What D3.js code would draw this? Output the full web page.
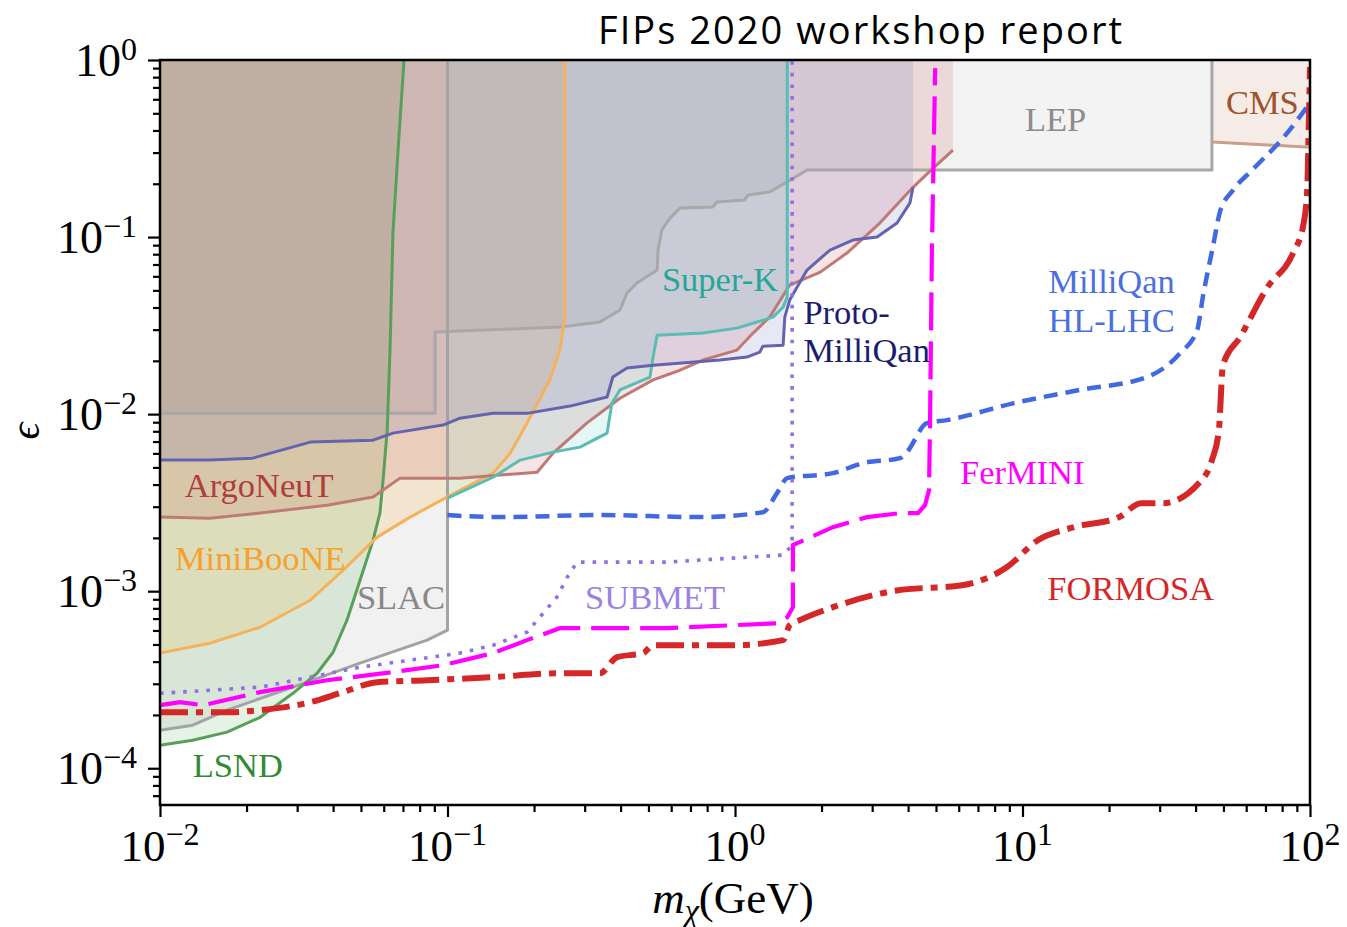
<!DOCTYPE html>
<html>
<head>
<meta charset="utf-8">
<script src="https://cdn.jsdelivr.net/npm/d3@7"></script>
<style>
  body { margin: 0; background: #fff; }
  svg { display: block; }
  .serif { font-family: "Liberation Serif", "DejaVu Serif", serif; }
</style>
</head>
<body>
<svg id="chart" width="1347" height="927"></svg>
<script>
var svg;
var x;
var y;

// every curve is [mass (GeV), epsilon]
var lsnd = [[0.01,1.35e-4],[0.013,1.44e-4],[0.0171,1.6e-4],[0.0223,1.94e-4],[0.029,2.65e-4],[0.0352,3.44e-4],[0.04,4.52e-4],[0.0447,6.86e-4],[0.0496,1.15e-3],[0.0551,1.94e-3],[0.0582,2.76e-3],[0.0597,4.24e-3],[0.0617,8.12e-3],[0.0631,0.023],[0.0646,0.105],[0.0673,0.31],[0.0706,1]];
var slac = [[0.01,1.64e-4],[0.013,1.75e-4],[0.0171,2.13e-4],[0.029,2.87e-4],[0.0496,3.92e-4],[0.0849,5.29e-4],[0.1,6.02e-4],[0.1,1]];
var miniboone = [[0.01,4.47e-4],[0.0149,5.08e-4],[0.0223,6.26e-4],[0.0333,8.89e-4],[0.0433,1.31e-3],[0.0569,2.02e-3],[0.0741,2.62e-3],[0.0995,3.4e-3],[0.144,4.64e-3],[0.165,6.0e-3],[0.189,8.89e-3],[0.227,0.0156],[0.246,0.023],[0.256,0.0353],[0.256,1]];
var argoneut = [[0.01,2.62e-3],[0.0149,2.58e-3],[0.0223,2.76e-3],[0.0381,3.06e-3],[0.0551,3.4e-3],[0.0684,4.35e-3],[0.1105,4.35e-3],[0.205,4.7e-3],[0.233,6.02e-3],[0.305,8.89e-3],[0.398,0.0123],[0.519,0.0156],[0.644,0.0177],[0.774,0.0202],[1.016,0.023],[1.156,0.0287],[1.32,0.0353],[1.55,0.0536],[1.98,0.0634],[2.45,0.0812],[3.19,0.12],[4.16,0.191],[4.89,0.245],[5.73,0.31]];
var protoMilliqan = [[0.01,5.5e-3],[0.0149,5.5e-3],[0.021,5.64e-3],[0.0333,6.95e-3],[0.0551,7.13e-3],[0.0646,7.81e-3],[0.0965,8.67e-3],[0.1105,9.49e-3],[0.144,0.0101],[0.189,0.0101],[0.267,0.0111],[0.359,0.0125],[0.376,0.0162],[0.421,0.0182],[0.519,0.0189],[0.887,0.0202],[1.1,0.021],[1.22,0.0224],[1.25,0.0242],[1.47,0.0245],[1.49,0.0353],[1.55,0.0441],[1.78,0.0651],[2.14,0.0845],[2.57,0.0962],[3.12,0.1],[3.66,0.12],[4.06,0.156],[4.16,0.191]];
var superK = [[0.1,3.35e-3],[0.144,4.4e-3],[0.179,5.5e-3],[0.233,6.1e-3],[0.289,6.51e-3],[0.359,7.81e-3],[0.373,0.0115],[0.398,0.0137],[0.506,0.0162],[0.519,0.021],[0.536,0.0279],[0.774,0.0287],[1.016,0.0306],[1.356,0.0353],[1.47,0.0402],[1.52,0.0458],[1.52,1]];
var colliders = [[0.01,0.0101],[0.0906,0.0101],[0.0906,0.0291],[0.246,0.031],[0.339,0.0331],[0.398,0.0387],[0.421,0.0483],[0.456,0.055],[0.536,0.0651],[0.54,0.0845],[0.557,0.11],[0.594,0.128],[0.644,0.146],[0.838,0.148],[0.865,0.158],[1.08,0.162],[1.11,0.173],[1.32,0.18],[1.52,0.205],[1.78,0.239],[45.6,0.239],[45.6,1]];
var cms = [[45.6,0.344],[100,0.322]];

var milliqanHL = [[0.1,2.69e-3],[0.152,2.62e-3],[0.339,2.69e-3],[0.756,2.62e-3],[1.25,2.79e-3],[1.4,3.58e-3],[1.52,4.35e-3],[2.19,4.64e-3],[2.79,5.29e-3],[3.75,5.64e-3],[3.96,6.1e-3],[4.65,8.89e-3],[5.46,9.25e-3],[9.27,0.0115],[15.85,0.0137],[27.1,0.0162],[32.6,0.0194],[35.3,0.0221],[40.5,0.0298],[42.5,0.047],[46,0.089],[48.7,0.14],[54,0.184],[63.4,0.242],[80.5,0.362],[100,0.572]];
var submet = [[0.01,2.65e-4],[0.0223,2.87e-4],[0.0496,3.72e-4],[0.1105,4.47e-4],[0.144,4.95e-4],[0.189,5.87e-4],[0.24,9.25e-4],[0.261,1.2e-3],[0.282,1.46e-3],[0.58,1.46e-3],[1.47,1.6e-3],[1.58,1.82e-3],[1.58,1]];
var fermini = [[0.01,2.27e-4],[0.01174,2.36e-4],[0.0141,2.27e-4],[0.0223,2.69e-4],[0.0381,3.14e-4],[0.0646,3.49e-4],[0.0965,3.82e-4],[0.144,4.47e-4],[0.189,5.29e-4],[0.246,6.18e-4],[0.58,6.18e-4],[1.4,6.59e-4],[1.52,7.13e-4],[1.59,8.12e-4],[1.59,1.82e-3],[2.19,2.3e-3],[2.88,2.62e-3],[3.75,2.76e-3],[4.33,2.76e-3],[4.58,3.06e-3],[4.73,3.72e-3],[4.77,9.25e-3],[4.84,0.0845],[4.97,0.9]];
var formosa = [[0.01,2.07e-4],[0.0171,2.07e-4],[0.0223,2.13e-4],[0.0333,2.36e-4],[0.0433,2.69e-4],[0.0569,3.06e-4],[0.0849,3.14e-4],[0.144,3.27e-4],[0.246,3.44e-4],[0.339,3.44e-4],[0.389,4.24e-4],[0.479,4.47e-4],[0.519,4.95e-4],[0.984,4.95e-4],[1.47,5.29e-4],[1.55,6.43e-4],[1.68,6.86e-4],[2.19,8.12e-4],[3.66,1.01e-3],[6.16,1.08e-3],[8.84,1.37e-3],[11.3,1.94e-3],[15.1,2.3e-3],[21.7,2.62e-3],[25.8,3.14e-3],[30.8,3.14e-3],[41.1,4.08e-3],[45.6,5.5e-3],[48.2,8.12e-3],[49.8,0.0189],[57.1,0.0272],[70.8,0.0515],[87.3,0.0812],[94.8,0.117],[97.8,0.184],[98.5,0.291],[100,0.913]];

var xTicks = [1e-2, 1e-1, 1e0, 1e1, 1e2];
var xTickExp = ["−2", "−1", "0", "1", "2"];
var yTicks = [1e-4, 1e-3, 1e-2, 1e-1, 1e0];
var yTickExp = ["−4", "−3", "−2", "−1", "0"];

var labelText = ["ArgoNeuT", "MiniBooNE", "SLAC", "LSND", "Super-K", "Proto-", "MilliQan", "MilliQan", "HL-LHC", "FerMINI", "SUBMET", "FORMOSA", "LEP", "CMS"];
var labelMass = [0.0122, 0.01127, 0.0484, 0.013, 0.557, 1.73, 1.73, 12.3, 12.3, 6.06, 0.301, 12.2, 10.2, 51.0];
var labelEps = [3.4e-3, 1.31e-3, 7.91e-4, 8.89e-5, 0.0495, 0.0322, 0.0198, 0.0482, 0.029, 4.02e-3, 7.91e-4, 8.89e-4, 0.397, 0.495];
var labelColor = ["#b03c3c", "#f7a02f", "#888888", "#2f8a34", "#26a69a", "#1c1c6e", "#1c1c6e", "#4a6fe0", "#4a6fe0", "#ff00ff", "#9b82e0", "#d62728", "#8c8c8c", "#a0522d"];

document.addEventListener('DOMContentLoaded', function () {
  svg = d3.select('#chart');
  drawChart();
});

function drawChart() {
  let left = 160, right = 1310, top = 60, bottom = 805;
  x = d3.scaleLog().domain([0.01, 100]).range([left, right]);
  y = d3.scaleLog().domain([6.2e-5, 1]).range([bottom, top]);

  svg.append("rect").attr("width", 1347).attr("height", 927).attr("fill", "#fff");

  svg.append("clipPath").attr("id", "plotclip")
    .append("rect")
    .attr("x", left).attr("y", top)
    .attr("width", right - left).attr("height", bottom - top);

  let plot = svg.append("g").attr("clip-path", "url(#plotclip)");

  let line = d3.line().x(d => x(d[0])).y(d => y(d[1]));
  let smooth = d3.line().x(d => x(d[0])).y(d => y(d[1])).curve(d3.curveMonotoneX);

  // shaded exclusions: curve plus the corners needed to close it to the top of the plot
  let regions = [
    { pts: colliders, close: [[0.01, 1]], fill: "#999999", op: 0.12, stroke: "#a8a8a8" },
    { pts: cms, close: [[100, 1], [45.6, 1]], fill: "#a0522d", op: 0.11, stroke: "#c9a08b" },
    { pts: slac, close: [[0.01, 1]], fill: "#888888", op: 0.12, stroke: "#a3a3a3" },
    { pts: lsnd, close: [[0.01, 1]], fill: "#2ca02c", op: 0.13, stroke: "#58a05a" },
    { pts: miniboone, close: [[0.01, 1]], fill: "#ffa500", op: 0.13, stroke: "#f6b25a" },
    { pts: argoneut, close: [[5.73, 1], [0.01, 1]], fill: "#b22222", op: 0.12, stroke: "#c07a76" },
    { pts: superK, close: [[0.1, 1]], fill: "#20b2aa", op: 0.12, stroke: "#5abcb2" },
    { pts: protoMilliqan, close: [[4.16, 1], [0.01, 1]], fill: "#4b4bb0", op: 0.13, stroke: "#6464ae" }
  ];

  regions.forEach(function (r) {
    plot.append("path")
      .attr("d", line(r.pts.concat(r.close)) + "Z")
      .attr("fill", r.fill)
      .attr("fill-opacity", r.op)
      .attr("stroke", "none");
  });
  regions.forEach(function (r) {
    plot.append("path")
      .attr("d", line(r.pts))
      .attr("fill", "none")
      .attr("stroke", r.stroke)
      .attr("stroke-width", 3)
      .attr("stroke-linejoin", "round");
  });

  // projections
  plot.append("path").attr("d", smooth(milliqanHL))
    .attr("fill", "none").attr("stroke", "#4169e1").attr("stroke-width", 4.5)
    .attr("stroke-dasharray", "14,8");
  plot.append("path").attr("d", line(submet))
    .attr("fill", "none").attr("stroke", "#9370db").attr("stroke-width", 3.6)
    .attr("stroke-dasharray", "3.6,8");
  plot.append("path").attr("d", line(fermini))
    .attr("fill", "none").attr("stroke", "#ff00ff").attr("stroke-width", 4.2)
    .attr("stroke-dasharray", "38,11");
  plot.append("path").attr("d", smooth(formosa))
    .attr("fill", "none").attr("stroke", "#d62728").attr("stroke-width", 6)
    .attr("stroke-dasharray", "28,8,7,8");

  // experiment labels
  svg.append("g").selectAll("text")
    .data(labelText)
    .enter()
    .append("text")
    .attr("class", "serif")
    .attr("x", (d, i) => x(labelMass[i]))
    .attr("y", (d, i) => y(labelEps[i]))
    .attr("font-size", 34.5)
    .attr("fill", (d, i) => labelColor[i])
    .text(d => d);

  // axes
  let minorX = [], minorY = [];
  for (let k = -2; k < 2; k++) for (let j = 2; j <= 9; j++) minorX.push(j * Math.pow(10, k));
  for (let k = -5; k < 0; k++) for (let j = 2; j <= 9; j++) {
    let v = j * Math.pow(10, k);
    if (v >= 6.2e-5) minorY.push(v);
  }

  let gx = svg.append("g").attr("transform", "translate(0," + bottom + ")");
  gx.call(d3.axisBottom(x).tickValues(xTicks).tickSize(12).tickSizeOuter(0).tickFormat(""));
  gx.append("g").call(d3.axisBottom(x).tickValues(minorX).tickSize(7).tickSizeOuter(0).tickFormat(""));
  let gy = svg.append("g").attr("transform", "translate(" + left + ",0)");
  gy.call(d3.axisLeft(y).tickValues(yTicks).tickSize(12).tickSizeOuter(0).tickFormat(""));
  gy.append("g").call(d3.axisLeft(y).tickValues(minorY).tickSize(7).tickSizeOuter(0).tickFormat(""));
  svg.selectAll(".tick line").attr("stroke", "#000").attr("stroke-width", 2.2);
  svg.selectAll(".domain").remove();

  svg.append("rect")
    .attr("x", left).attr("y", top)
    .attr("width", right - left).attr("height", bottom - top)
    .attr("fill", "none").attr("stroke", "#000").attr("stroke-width", 2.5);

  let xl = svg.append("g").selectAll("text")
    .data(xTicks).enter().append("text")
    .attr("class", "serif")
    .attr("x", d => x(d))
    .attr("y", bottom + 56)
    .attr("text-anchor", "middle")
    .attr("font-size", 45);
  xl.append("tspan").text("10");
  xl.append("tspan").attr("dy", -16).attr("font-size", 32).text((d, i) => xTickExp[i]);

  let yl = svg.append("g").selectAll("text")
    .data(yTicks).enter().append("text")
    .attr("class", "serif")
    .attr("x", left - 23)
    .attr("y", d => y(d) + 16)
    .attr("text-anchor", "end")
    .attr("font-size", 46);
  yl.append("tspan").text("10");
  yl.append("tspan").attr("dy", -16).attr("font-size", 32).text((d, i) => yTickExp[i]);

  // axis titles
  let xt = svg.append("text").attr("class", "serif")
    .attr("x", (left + right) / 2 - 2).attr("y", 913)
    .attr("text-anchor", "middle").attr("font-size", 45);
  xt.append("tspan").attr("font-style", "italic").text("m");
  xt.append("tspan").attr("font-style", "italic").attr("font-size", 32).attr("dy", 8).text("χ");
  xt.append("tspan").attr("dy", -8).text("(GeV)");

  svg.append("text").attr("class", "serif")
    .attr("transform", "translate(39,431) rotate(-90)")
    .attr("text-anchor", "middle")
    .attr("font-size", 42).attr("font-style", "italic")
    .text("ϵ");

  svg.append("text")
    .attr("x", 860).attr("y", 44)
    .attr("text-anchor", "middle")
    .attr("font-family", "'Open Sans', 'Noto Sans', sans-serif")
    .attr("font-size", 38)
    .attr("textLength", 524)
    .attr("fill", "#000")
    .text("FIPs 2020 workshop report");
}
</script>
</body>
</html>
